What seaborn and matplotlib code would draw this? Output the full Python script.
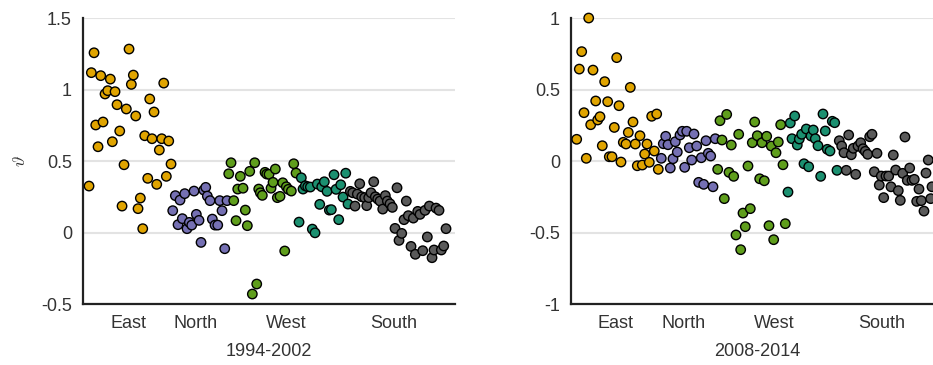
import pandas as pd
import seaborn as sns
import matplotlib.pyplot as plt

# region tick labels and their positions along the unit ordering
regions = ['East', 'North', 'West', 'South']
region_ticks = [45, 113, 203, 311]

# ---- 1994-2002 ----
p1_east_x = [6.0, 8.3, 11.0, 12.7, 15.0, 17.7, 20.0, 22.0, 24.7, 27.3, 29.3, 32.0,
             34.0, 36.7, 39.0, 41.0, 43.3, 46.0, 48.3, 50.3, 52.7, 55.0, 57.3, 59.7,
             61.7, 64.7, 66.7, 69.0, 71.0, 73.7, 76.3, 78.7, 80.7, 83.3, 85.7, 88.0]
p1_east_y = [0.325, 1.118, 1.257, 0.752, 0.60, 1.097, 0.773, 0.969, 0.992, 1.073, 0.635, 0.985,
             0.894, 0.71, 0.185, 0.474, 0.864, 1.283, 1.036, 1.101, 0.815, 0.167, 0.241, 0.027,
             0.677, 0.379, 0.934, 0.656, 0.843, 0.337, 0.577, 0.656, 1.045, 0.393, 0.64, 0.479]

p1_north_x = [89.7, 92.3, 95.0, 97.0, 99.3, 101.7, 104.0, 106.3, 108.7, 111.0, 113.3, 116.0,
              118.0, 120.7, 122.7, 124.3, 127.0, 129.3, 132.0, 134.7, 136.7, 139.0, 141.7, 144.0]
p1_north_y = [0.153, 0.258, 0.055, 0.227, 0.097, 0.272, 0.027, 0.071, 0.052, 0.29, 0.127, 0.085,
              -0.069, 0.297, 0.316, 0.255, 0.223, 0.094, 0.052, 0.052, 0.223, 0.153, -0.113, 0.223]

p1_west_a_x = [145.7, 148.0, 150.7, 153.0, 154.7, 157.3, 160.0, 162.3, 164.3, 166.7, 169.3,
               171.7, 173.7, 175.7, 177.3, 179.3, 182.0, 183.7, 186.0, 188.0, 190.0, 192.3,
               194.3, 197.0, 199.7, 201.7, 203.3, 205.3, 208.3, 210.7, 213.0]
p1_west_a_y = [0.411, 0.488, 0.223, 0.083, 0.304, 0.393, 0.31, 0.157, 0.048, 0.428, -0.43,
               0.488, -0.36, 0.304, 0.278, 0.26, 0.421, 0.409, 0.407, 0.31, 0.351, 0.444,
               0.244, 0.253, 0.348, -0.129, 0.32, 0.302, 0.29, 0.481, 0.416]

p1_west_b_x = [216.0, 218.3, 220.0, 222.3, 224.7, 227.3, 229.3, 232.0, 234.3, 236.7, 238.7,
               241.3, 244.0, 246.3, 248.3, 251.0, 253.0, 255.7, 257.7, 260.0, 262.7, 265.0]
p1_west_b_y = [0.073, 0.383, 0.304, 0.327, 0.32, 0.318, 0.024, -0.002, 0.339, 0.197, 0.32,
               0.355, 0.288, 0.157, 0.16, 0.404, 0.302, 0.09, 0.334, 0.248, 0.415, 0.199]

p1_south_x = [267.3, 269.7, 272.0, 274.3, 276.7, 278.7, 281.7, 283.7, 285.7, 288.0, 290.7,
              292.3, 294.7, 297.0, 299.7, 302.3, 304.3, 307.0, 309.3, 312.0, 314.0, 316.0,
              318.7, 321.0, 323.3, 325.3, 328.0, 330.3, 332.3, 334.7, 337.0, 339.7, 342.0,
              344.3, 346.3, 349.0, 351.0, 353.0, 356.0, 358.3, 360.7, 363.0]
p1_south_y = [0.288, 0.278, 0.185, 0.269, 0.341, 0.25, 0.244, 0.188, 0.244, 0.278, 0.355,
              0.25, 0.234, 0.22, 0.164, 0.258, 0.22, 0.201, 0.176, 0.029, 0.313, -0.055,
              -0.006, 0.09, 0.22, 0.118, -0.097, 0.101, -0.152, 0.148, 0.127, -0.127, 0.155,
              -0.031, 0.185, -0.176, -0.122, 0.171, 0.155, -0.122, -0.094, 0.027]

# ---- 2008-2014 ----
p2_east_x = [5.7, 8.3, 10.7, 13.0, 15.3, 17.7, 19.7, 22.0, 24.7, 26.7, 29.0, 31.3,
             33.7, 36.7, 38.3, 41.0, 43.3, 45.7, 48.0, 50.0, 52.3, 55.0, 57.3, 59.3,
             62.0, 64.3, 66.3, 69.0, 71.3, 73.7, 76.0, 78.3, 80.7, 83.3, 85.7, 87.3]
p2_east_y = [0.152, 0.643, 0.765, 0.338, 0.019, 1.0, 0.254, 0.636, 0.42, 0.287, 0.31, 0.107,
             0.555, 0.415, 0.03, 0.03, 0.235, 0.723, 0.387, -0.007, 0.131, 0.119, 0.2, 0.515,
             0.273, 0.119, -0.033, 0.177, -0.028, 0.049, 0.119, -0.009, 0.313, 0.07, 0.329, -0.058]

p2_north_x = [90.3, 92.3, 94.7, 97.0, 99.3, 102.0, 104.3, 106.3, 109.0, 111.3, 113.7, 115.7,
              118.3, 120.7, 123.0, 125.7, 127.7, 130.3, 132.7, 135.0, 137.3, 139.7, 142.0, 144.3]
p2_north_y = [0.019, 0.121, 0.173, 0.114, -0.049, 0.016, 0.135, 0.063, 0.182, 0.208, -0.044, 0.208,
              0.093, 0.007, 0.189, 0.105, -0.149, 0.023, -0.163, 0.142, 0.054, 0.035, -0.18, 0.156]

p2_west_a_x = [146.7, 149.0, 151.0, 153.3, 155.7, 158.0, 160.3, 162.7, 165.0, 167.7, 169.7,
               172.0, 174.3, 177.0, 179.3, 181.3, 183.7, 186.3, 188.7, 191.0, 193.3, 195.7,
               198.0, 200.3, 202.7, 205.0, 207.3, 209.7, 212.0, 214.3]
p2_west_a_y = [-0.058, 0.282, 0.147, -0.263, 0.326, -0.079, 0.112, -0.107, -0.517, 0.187, -0.62,
               -0.364, -0.459, -0.035, -0.333, 0.128, 0.273, 0.177, -0.124, 0.128, -0.138, 0.173,
               -0.452, 0.105, -0.55, 0.058, 0.133, 0.254, -0.026, -0.438]

p2_west_b_x = [217.0, 219.3, 221.0, 223.7, 226.3, 228.3, 230.7, 233.0, 235.3, 237.7, 240.0,
               242.3, 244.3, 247.0, 249.7, 252.0, 254.3, 256.3, 259.0, 261.3, 263.7, 266.0]
p2_west_b_y = [-0.217, 0.266, 0.156, 0.315, 0.112, 0.154, 0.187, -0.019, 0.224, -0.04, 0.175,
               0.217, 0.156, 0.107, -0.107, 0.329, 0.21, 0.082, 0.07, 0.278, 0.268, -0.065]

p2_south_x = [268.3, 270.7, 273.0, 275.3, 277.7, 280.3, 282.3, 284.7, 287.0, 289.7, 292.0,
              294.3, 296.7, 298.7, 301.0, 303.3, 306.0, 308.3, 310.3, 312.7, 315.0, 317.7,
              320.0, 322.3, 324.7, 327.3, 329.3, 331.7, 334.0, 336.3, 338.7, 341.0, 343.3,
              345.7, 348.0, 350.3, 353.0, 355.0, 357.3, 359.7, 361.0]
p2_south_y = [0.142, 0.105, 0.058, -0.065, 0.182, 0.044, 0.089, -0.093, 0.105, 0.128, 0.086,
              0.068, 0.047, 0.17, 0.187, -0.075, 0.054, -0.168, -0.105, -0.256, -0.105, -0.105,
              -0.18, 0.042, -0.063, -0.207, -0.275, -0.086, 0.168, -0.135, -0.049, -0.135, -0.128,
              -0.282, -0.196, -0.277, -0.35, -0.084, 0.007, -0.263, -0.18]

groups = ['east', 'north', 'west_a', 'west_b', 'south']
colors = {'east': '#e0a400', 'north': '#7570b3', 'west_a': '#5f9e1c',
          'west_b': '#1b9070', 'south': '#5a5a5a'}


def make_df(parts):
    frames = []
    for g, (xs, ys) in zip(groups, parts):
        frames.append(pd.DataFrame({'x': xs, 'theta': ys, 'group': g}))
    return pd.concat(frames, ignore_index=True)


df1 = make_df([(p1_east_x, p1_east_y), (p1_north_x, p1_north_y),
               (p1_west_a_x, p1_west_a_y), (p1_west_b_x, p1_west_b_y),
               (p1_south_x, p1_south_y)])
df2 = make_df([(p2_east_x, p2_east_y), (p2_north_x, p2_north_y),
               (p2_west_a_x, p2_west_a_y), (p2_west_b_x, p2_west_b_y),
               (p2_south_x, p2_south_y)])

sns.set_theme(style='white')
plt.rcParams['font.family'] = ['Liberation Sans', 'DejaVu Sans']
plt.rcParams['mathtext.fontset'] = 'cm'

fig = plt.figure(figsize=(9.33, 3.65), dpi=100)
ax1 = fig.add_axes([0.089, 0.167, 0.3987, 0.7836])
ax2 = fig.add_axes([0.612, 0.167, 0.3987, 0.7836])

panels = [
    (ax1, df1, '1994-2002', [-0.5, 0, 0.5, 1, 1.5], ['-0.5', '0', '0.5', '1', '1.5']),
    (ax2, df2, '2008-2014', [-1, -0.5, 0, 0.5, 1], ['-1', '-0.5', '0', '0.5', '1']),
]

for ax, df, period, yt, ytl in panels:
    sns.scatterplot(data=df, x='x', y='theta', hue='group', palette=colors,
                    s=46, edgecolor='black', linewidth=1.0, legend=False,
                    ax=ax, zorder=3, clip_on=False)
    ax.set_xlim(0, 372)
    ax.set_ylim(yt[0], yt[-1])
    ax.set_yticks(yt)
    ax.set_yticklabels(ytl)
    ax.set_xticks(region_ticks)
    ax.set_xticklabels(regions)
    ax.yaxis.grid(True, color='#e3e3e3', linewidth=1.5)
    ax.xaxis.grid(False)
    ax.set_axisbelow(True)
    for side in ['top', 'right']:
        ax.spines[side].set_visible(False)
    for side in ['left', 'bottom']:
        ax.spines[side].set_color('#222222')
        ax.spines[side].set_linewidth(1.6)
    ax.tick_params(length=0, pad=8, labelsize=13, labelcolor='#333333')
    ax.set_xlabel(period, fontsize=13, color='#333333', labelpad=8)
    ax.set_ylabel('')

ax1.set_ylabel(r'$\vartheta$', fontsize=13, color='#333333', labelpad=9)

plt.savefig('out.png', dpi=100)
